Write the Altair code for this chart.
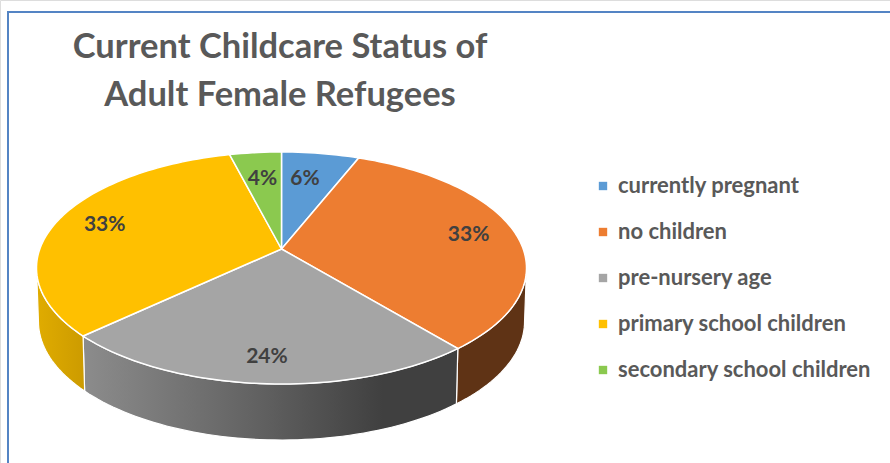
import math
import altair as alt

# Survey shares, in percent
categories = ["currently pregnant", "no children", "pre-nursery age",
              "primary school children", "secondary school children"]
shares = [6, 33, 24, 33, 4]
top_colors = ["#5B9BD5", "#ED7D31", "#A5A5A5", "#FFC000", "#8BC94F"]

# How far out along its slice each percentage label sits, and a small sideways nudge
label_reach = [0.70, 0.80, 0.83, 0.78, 0.70]
label_nudge = [-5, 0, 0, -2, 0]

# Tilted-disc geometry: a circle seen in perspective, in screen pixels
APEX_X, APEX_Y = 281.5, 249
HALF_W, HALF_H, TILT = 241.7, 112.9, 0.1638
DEPTH = 53
# The rim is visible between these bearings (degrees clockwise from 12 o'clock)
FRONT_FROM = math.degrees(math.acos(-TILT))
FRONT_TO = 360 - FRONT_FROM


def disc_point(bearing, reach=1.0):
    a = math.radians(bearing)
    u, v = reach * math.sin(a), -reach * math.cos(a)
    w = 1 - TILT * v
    return [APEX_X + HALF_W * u / w, APEX_Y + HALF_H * v / w]


def floor_point(bearing):
    a = math.radians(bearing)
    x, y = disc_point(bearing)
    return [APEX_X + (x - APEX_X) * 0.992, y + DEPTH + 3 * (-math.cos(a))]


def sweep(start, end):
    steps = max(2, int((end - start) / 1.5))
    return [start + (end - start) * i / steps for i in range(steps + 1)]


def feature(ring, name):
    return {"type": "Feature",
            "geometry": {"type": "Polygon", "coordinates": [ring + [ring[0]]]},
            "properties": {"status": name}}


# Slice boundaries from the shares
edges = [0]
for s in shares:
    edges.append(edges[-1] + s * 3.6)

top_features, rim_features, label_rows = [], {}, []
for i, name in enumerate(categories):
    start, end = edges[i], edges[i + 1]
    arc = [disc_point(b) for b in sweep(start, end)]
    top_features.append(feature([[APEX_X, APEX_Y]] + arc, name))

    lo, hi = max(start, FRONT_FROM), min(end, FRONT_TO)
    if lo < hi:
        angles = sweep(lo, hi)
        rim_features[name] = feature([disc_point(b) for b in angles]
                                     + [floor_point(b) for b in reversed(angles)], name)

    px, py = disc_point((start + end) / 2, label_reach[i])
    label_rows.append({"px": px + label_nudge[i], "py": py, "text": f"{shares[i]}%"})

flat = dict(type="identity", scale=1, translate=[0, 0])


def shade(*stops):
    return alt.Gradient(gradient="linear", x1=0, x2=1, y1=0, y2=0,
                        stops=[alt.GradientStop(offset=o, color=c) for o, c in stops])


rim_fills = {
    "no children": shade((0, "#5F3315"), (1, "#5F3315")),
    "pre-nursery age": shade((0, "#8C8C8C"), (0.45, "#636363"), (0.8, "#404040"), (1, "#404040")),
    "primary school children": shade((0, "#E0AC00"), (1, "#CC9B00")),
}

rims = [
    alt.Chart(alt.Data(values=[rim_features[name]]))
    .mark_geoshape(fill=fill, stroke="white", strokeWidth=1.2)
    .project(**flat)
    for name, fill in rim_fills.items()
]

tops = (
    alt.Chart(alt.Data(values=top_features))
    .mark_geoshape(stroke="white", strokeWidth=1.5)
    .encode(color=alt.Color(
        "properties.status:N",
        scale=alt.Scale(domain=categories, range=top_colors),
        legend=alt.Legend(
            title=None, orient="none", legendX=592, legendY=175,
            symbolType="square", symbolSize=70, symbolStrokeWidth=0,
            labelFont="Lato", labelFontWeight="bold", labelFontSize=22,
            labelColor="#595959", labelOffset=4, labelLimit=320,
            rowPadding=24, symbolOffset=0,
        ),
    ))
    .project(**flat)
)

labels = (
    alt.Chart(alt.Data(values=label_rows))
    .mark_text(font="Lato", fontWeight="bold", fontSize=21, color="#404040")
    .encode(x=alt.X("px:Q", scale=None, axis=None),
            y=alt.Y("py:Q", scale=None, axis=None),
            text="text:N")
)

# Blue frame along the top and left of the card
frame_top = alt.Chart(alt.Data(values=[{}])).mark_rule(color="#5484C4", strokeWidth=2).encode(
    x=alt.value(7), x2=alt.value(890), y=alt.value(12))
frame_left = alt.Chart(alt.Data(values=[{}])).mark_rule(color="#5484C4", strokeWidth=2).encode(
    x=alt.value(8), y=alt.value(11), y2=alt.value(463))

chart = (
    alt.layer(*rims, tops, labels, frame_top, frame_left)
    .properties(
        width=890, height=463,
        padding=0,
        autosize=alt.AutoSizeParams(type="none"),
        title=alt.TitleParams(
            text=["Current Childcare Status of", "Adult Female Refugees"],
            anchor="start", frame="group", align="center", baseline="top",
            font="Lato", fontWeight="bold", fontSize=34.5, lineHeight=48,
            color="#595959", dx=280, dy=113, offset=0,
        ),
    )
    .configure_view(stroke=None)
    .configure(background="white")
)

chart.save("out.html", embed_options={"renderer": "svg", "actions": False})
